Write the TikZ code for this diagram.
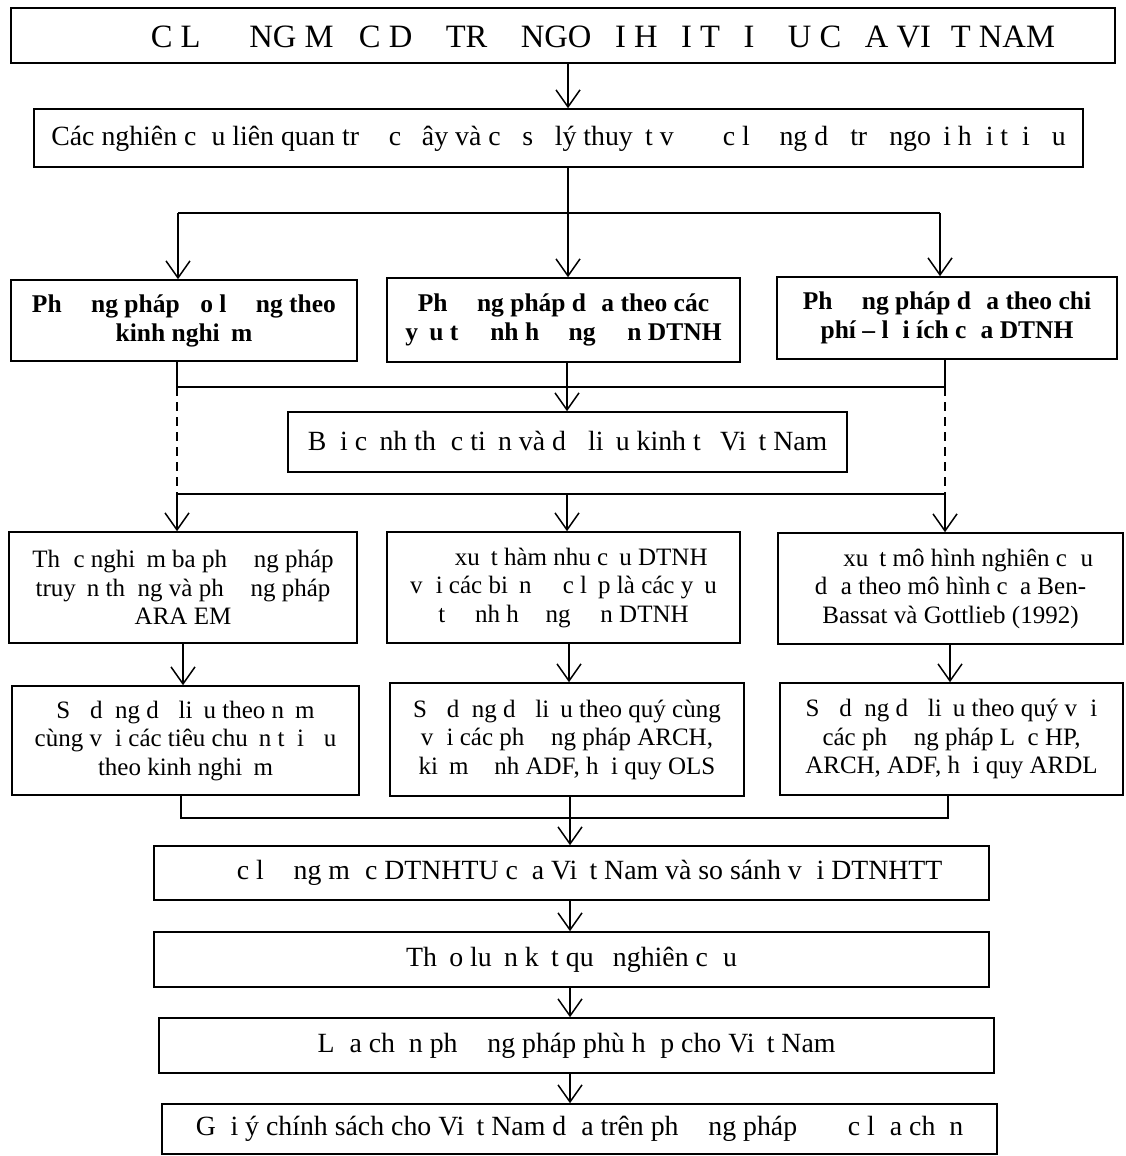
\documentclass[tikz,border=0pt]{standalone}
\usepackage{fontspec}
\setmainfont{Liberation Serif}
\usetikzlibrary{arrows.meta,calc}
\newcommand{\miss}[1]{\phantom{#1}}
\begin{document}
\begin{tikzpicture}[x=1pt,y=-1pt,
  box/.style={draw, line width=1.6pt, inner sep=0pt, align=center,
    font=\fontsize{25}{28.5}\selectfont},
  sbox/.style={box, font=\fontsize{27.8}{32}\selectfont},
  bbox/.style={box, font=\fontsize{25.5}{29}\selectfont\bfseries},
  ln/.style={line width=1.5pt},
  bus/.style={line width=2.6pt},
  arr/.style={line width=1.5pt, -{Straight Barb[length=17pt,width=24pt]}},
  dsh/.style={line width=1.2pt, dash pattern=on 9pt off 6pt}]
\useasboundingbox (0,0) rectangle (1125,1156);
% boxes
\node[box, minimum width=1104pt, minimum height=55pt, font=\fontsize{32.6}{36}\selectfont] (T) at (563,35.5)
  {\hspace*{31pt}\miss{ƯỚ}C L\miss{ƯỢ}NG M\miss{Ứ}C D\miss{Ự} TR\miss{Ữ} NGO\miss{Ạ}I H\miss{Ố}I T\miss{Ố}I \miss{Ư}U C\miss{Ủ}A VI\miss{Ệ}T NAM};
\node[sbox, minimum width=1049pt, minimum height=58pt] (B2) at (558.5,138)
  {Các nghiên c\miss{ứ}u liên quan tr\miss{ướ}c \miss{đ}ây và c\miss{ơ} s\miss{ở} lý thuy\miss{ế}t v\miss{ề} \miss{ướ}c l\miss{ượ}ng d\miss{ự} tr\miss{ữ} ngo\miss{ạ}i h\miss{ố}i t\miss{ố}i \miss{ư}u};
\node[bbox, minimum width=346pt, minimum height=81pt] (R3L) at (184,320.5)
  {Ph\miss{ươ}ng pháp \miss{đ}o l\miss{ườ}ng theo\\kinh nghi\miss{ệ}m};
\node[bbox, minimum width=353pt, minimum height=84pt] (R3M) at (563.5,320)
  {Ph\miss{ươ}ng pháp d\miss{ự}a theo các\\y\miss{ế}u t\miss{ố} \miss{ả}nh h\miss{ưở}ng \miss{đế}n DTNH};
\node[bbox, minimum width=340pt, minimum height=82pt] (R3R) at (947,318)
  {Ph\miss{ươ}ng pháp d\miss{ự}a theo chi\\phí – l\miss{ợ}i ích c\miss{ủ}a DTNH};
\node[sbox, minimum width=559pt, minimum height=60pt] (B4) at (567.5,442)
  {B\miss{ố}i c\miss{ả}nh th\miss{ự}c ti\miss{ễ}n và d\miss{ữ} li\miss{ệ}u kinh t\miss{ế} Vi\miss{ệ}t Nam};
\node[box, minimum width=348pt, minimum height=111pt] (R5L) at (183,587.5)
  {Th\miss{ự}c nghi\miss{ệ}m ba ph\miss{ươ}ng pháp\\truy\miss{ề}n th\miss{ố}ng và ph\miss{ươ}ng pháp\\ARA EM};
\node[box, minimum width=353pt, minimum height=111pt] (R5M) at (563.5,587.5)
  {\miss{Đề} xu\miss{ấ}t hàm nhu c\miss{ầ}u DTNH\\v\miss{ớ}i các bi\miss{ế}n \miss{độ}c l\miss{ậ}p là các y\miss{ế}u\\t\miss{ố} \miss{ả}nh h\miss{ưở}ng \miss{đế}n DTNH};
\node[box, minimum width=345pt, minimum height=111pt] (R5R) at (950.5,588.5)
  {\miss{Đề} xu\miss{ấ}t mô hình nghiên c\miss{ứ}u\\d\miss{ự}a theo mô hình c\miss{ủ}a Ben-\\Bassat và Gottlieb (1992)};
\node[box, minimum width=347pt, minimum height=109pt] (R6L) at (185.5,740.5)
  {S\miss{ử} d\miss{ụ}ng d\miss{ữ} li\miss{ệ}u theo n\miss{ă}m\\cùng v\miss{ớ}i các tiêu chu\miss{ẩ}n t\miss{ố}i \miss{ư}u\\theo kinh nghi\miss{ệ}m};
\node[box, minimum width=354pt, minimum height=113pt] (R6M) at (567,739.5)
  {S\miss{ử} d\miss{ụ}ng d\miss{ữ} li\miss{ệ}u theo quý cùng\\v\miss{ớ}i các ph\miss{ươ}ng pháp ARCH,\\ki\miss{ể}m \miss{đị}nh ADF, h\miss{ồ}i quy OLS};
\node[box, minimum width=343pt, minimum height=112pt] (R6R) at (951.5,739)
  {S\miss{ử} d\miss{ụ}ng d\miss{ữ} li\miss{ệ}u theo quý v\miss{ớ}i\\các ph\miss{ươ}ng pháp L\miss{ọ}c HP,\\ARCH, ADF, h\miss{ồ}i quy ARDL};
\node[sbox, minimum width=835pt, minimum height=54pt] (B7) at (571.5,873)
  {\miss{Ướ}c l\miss{ượ}ng m\miss{ứ}c DTNHTU c\miss{ủ}a Vi\miss{ệ}t Nam và so sánh v\miss{ớ}i DTNHTT};
\node[sbox, minimum width=835pt, minimum height=55pt] (B8) at (571.5,959.5)
  {Th\miss{ả}o lu\miss{ậ}n k\miss{ế}t qu\miss{ả} nghiên c\miss{ứ}u};
\node[sbox, minimum width=835pt, minimum height=55pt] (B9) at (576.5,1045.5)
  {L\miss{ự}a ch\miss{ọ}n ph\miss{ươ}ng pháp phù h\miss{ợ}p cho Vi\miss{ệ}t Nam};
\node[sbox, minimum width=835pt, minimum height=50pt] (B10) at (579.5,1129)
  {G\miss{ợ}i ý chính sách cho Vi\miss{ệ}t Nam d\miss{ự}a trên ph\miss{ươ}ng pháp \miss{đượ}c l\miss{ự}a ch\miss{ọ}n};
% helper coordinates
\coordinate (xa) at (568,0);
\coordinate (b1L) at (178,213);
\coordinate (b1M) at (568,213);
\coordinate (b1R) at (940,213);
\coordinate (b2L) at (177,387);
\coordinate (b2M) at (567,387);
\coordinate (b2R) at (945,387);
\coordinate (b3L) at (177,494);
\coordinate (b3M) at (567,494);
\coordinate (b3R) at (945,494);
\coordinate (c5L) at (183,0);
\coordinate (c5M) at (569,0);
\coordinate (c5R) at (950,0);
\coordinate (b4L) at (181,818);
\coordinate (b4M) at (570,818);
\coordinate (b4R) at (948,818);
% connectors
\draw[arr] (T.south -| xa) -- (B2.north -| xa);
\draw[ln] (B2.south -| xa) -- (b1M);
\draw[ln] (b1L) -- (b1R);
\draw[arr] (b1L) -- (R3L.north -| b1L);
\draw[arr] (b1M) -- (R3M.north -| b1M);
\draw[arr] (b1R) -- (R3R.north -| b1R);
\draw[ln] (R3L.south -| b2L) -- (b2L);
\draw[ln] (R3R.south -| b2R) -- (b2R);
\draw[bus] (b2L) -- (b2R);
\draw[arr] (R3M.south -| b2M) -- (B4.north -| b2M);
\draw[dsh] (b2L) -- (b3L);
\draw[dsh] (b2R) -- (b3R);
\draw[bus] (b3L) -- (b3R);
\draw[arr] (b3L) -- (R5L.north -| b3L);
\draw[arr] (b3M) -- (R5M.north -| b3M);
\draw[arr] (b3R) -- (R5R.north -| b3R);
\draw[arr] (R5L.south -| c5L) -- (R6L.north -| c5L);
\draw[arr] (R5M.south -| c5M) -- (R6M.north -| c5M);
\draw[arr] (R5R.south -| c5R) -- (R6R.north -| c5R);
\draw[ln] (R6L.south -| b4L) -- (b4L) -- (b4R) -- (R6R.south -| b4R);
\draw[arr] (R6M.south -| b4M) -- (B7.north -| b4M);
\draw[arr] (B7.south -| b4M) -- (B8.north -| b4M);
\draw[arr] (B8.south -| b4M) -- (B9.north -| b4M);
\draw[arr] (B9.south -| b4M) -- (B10.north -| b4M);
\end{tikzpicture}
\end{document}
